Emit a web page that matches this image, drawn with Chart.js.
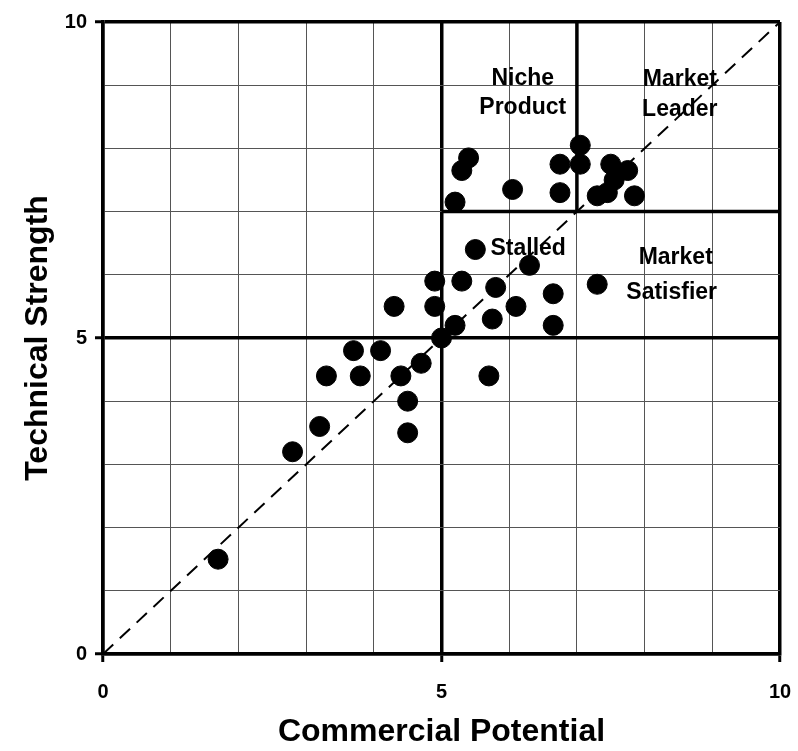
<!DOCTYPE html>
<html>
<head>
<meta charset="utf-8">
<script src="https://cdn.jsdelivr.net/npm/chart.js@4"></script>
<style>
  html, body { margin: 0; padding: 0; background: #fff; }
  #wrap { width: 798px; height: 751px; }
</style>
</head>
<body>
<div id="wrap"><canvas id="chart" width="798" height="751"></canvas></div>
<script>
// product positions
const commercial = [1.7, 2.8, 3.2, 3.3, 3.7, 3.8, 4.1, 4.3, 4.4, 4.5, 4.5, 4.7, 4.9, 4.9, 5.0, 5.2, 5.2, 5.3, 5.4, 5.3,
  5.5, 5.7, 5.75, 5.8, 6.05, 6.1, 6.3, 6.65, 6.65, 6.75, 6.75, 7.05, 7.05, 7.3, 7.45, 7.55, 7.5, 7.75, 7.85, 7.3];
const technical = [1.5, 3.2, 3.6, 4.4, 4.8, 4.4, 4.8, 5.5, 4.4, 4.0, 3.5, 4.6, 5.9, 5.5, 5.0, 5.2, 7.15, 7.65, 7.85, 5.9,
  6.4, 4.4, 5.3, 5.8, 7.35, 5.5, 6.15, 5.7, 5.2, 7.75, 7.3, 8.05, 7.75, 7.25, 7.3, 7.5, 7.75, 7.65, 7.25, 5.85];

const tickLabels = { 0: '0', 5: '5', 10: '10' };

// quadrant dividers (data units)
const dividerX = [{ x: 7, y: 7 }, { x: 7, y: 10 }];
const dividerY = [{ x: 5, y: 7 }, { x: 10, y: 7 }];
const diagonal = [{ x: 0, y: 0 }, { x: 10, y: 10 }];

const quadrantText = ['Niche', 'Product', 'Market', 'Leader', 'Stalled', 'Market', 'Satisfier'];
const quadrantTextX = [6.2, 6.2, 8.52, 8.52, 6.28, 8.46, 8.4];
const quadrantTextY = [9.11, 8.64, 9.08, 8.61, 6.42, 6.27, 5.71];

const FONT = '"Liberation Sans", Arial, sans-serif';

const quadrantLabels = {
  id: 'quadrantLabels',
  afterDatasetsDraw(chart) {
    const { ctx, scales: { x, y } } = chart;
    ctx.save();
    ctx.fillStyle = '#000';
    ctx.font = 'bold 23px ' + FONT;
    ctx.textAlign = 'center';
    ctx.textBaseline = 'middle';
    quadrantText.forEach((t, i) => {
      ctx.fillText(t, x.getPixelForValue(quadrantTextX[i]), y.getPixelForValue(quadrantTextY[i]));
    });
    ctx.restore();
  }
};

const major = v => v % 5 === 0;

function gridOpts() {
  return {
    color: ctx => major(ctx.tick.value) ? '#000' : '#555',
    lineWidth: ctx => major(ctx.tick.value) ? 3.5 : 1,
    tickColor: ctx => major(ctx.tick.value) ? '#000' : 'rgba(0,0,0,0)',
    tickWidth: 3,
    tickLength: 8,
  };
}

new Chart(document.getElementById('chart'), {
  type: 'scatter',
  data: {
    datasets: [
      {
        data: commercial.map((c, i) => ({ x: c, y: technical[i] })),
        backgroundColor: '#000',
        borderColor: '#000',
        pointRadius: 10,
        pointHoverRadius: 10,
        order: 0,
      },
      {
        type: 'line',
        data: dividerX,
        borderColor: '#000',
        borderWidth: 3.5,
        pointRadius: 0,
        order: 1,
      },
      {
        type: 'line',
        data: dividerY,
        borderColor: '#000',
        borderWidth: 3.5,
        pointRadius: 0,
        order: 1,
      },
      {
        type: 'line',
        data: diagonal,
        borderColor: '#000',
        borderWidth: 2,
        borderDash: [14, 9],
        pointRadius: 0,
        order: 2,
      },
    ],
  },
  options: {
    responsive: false,
    animation: false,
    layout: { padding: { top: 22, right: 18, left: 0, bottom: 0 } },
    plugins: { legend: { display: false }, tooltip: { enabled: false } },
    scales: {
      x: {
        type: 'linear',
        min: 0,
        max: 10,
        afterFit: s => { s.height = 97; s.paddingLeft = 0; s.paddingRight = 0; },
        ticks: {
          stepSize: 1,
          padding: 18,
          color: '#000',
          font: { family: FONT, size: 20, weight: 'bold' },
          callback: v => tickLabels[v] ?? '',
          maxRotation: 0,
        },
        grid: gridOpts(),
        border: { color: '#000', width: 3.5 },
        title: {
          display: true,
          text: 'Commercial Potential',
          color: '#000',
          font: { family: FONT, size: 32, weight: 'bold' },
          padding: { top: 16, bottom: 0 },
        },
      },
      y: {
        type: 'linear',
        min: 0,
        max: 10,
        afterFit: s => { s.width = 103; s.paddingTop = 0; s.paddingBottom = 0; },
        ticks: {
          stepSize: 1,
          padding: 8,
          color: '#000',
          font: { family: FONT, size: 20, weight: 'bold' },
          callback: v => tickLabels[v] ?? '',
        },
        grid: gridOpts(),
        border: { color: '#000', width: 3.5 },
        title: {
          display: true,
          text: 'Technical Strength',
          color: '#000',
          font: { family: FONT, size: 32, weight: 'bold' },
          padding: { top: 19, bottom: 0 },
        },
      },
    },
  },
  plugins: [quadrantLabels],
});
</script>
</body>
</html>
